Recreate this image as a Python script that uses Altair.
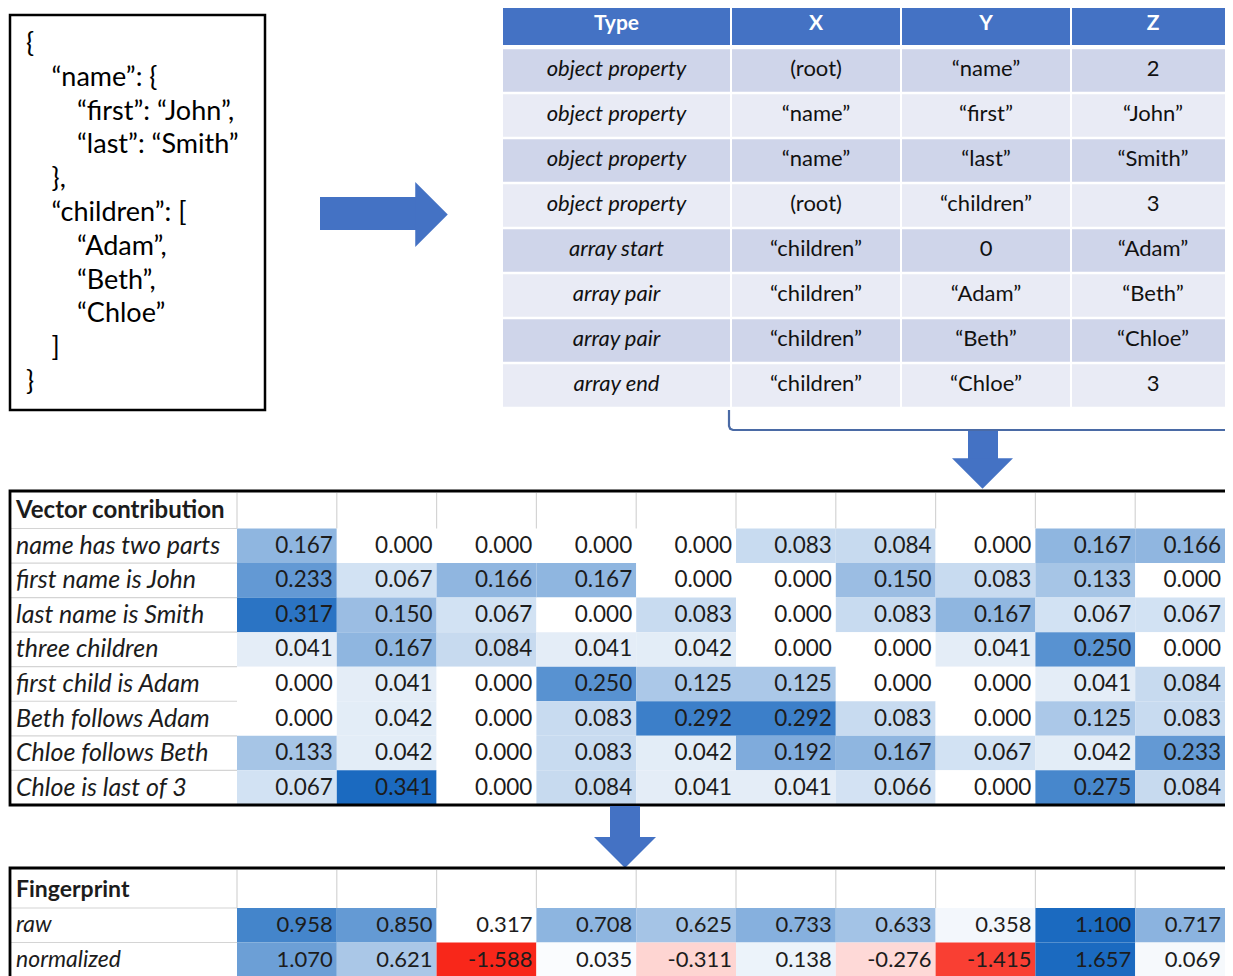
import altair as alt
import pandas as pd

# ---------------- data ----------------
JSON_TEXT = ["{", "“name”: {", "“first”: “John”,", "“last”: “Smith”", "},",
             "“children”: [", "“Adam”,", "“Beth”,", "“Chloe”", "]", "}"]
JSON_INDENT = [0, 1, 2, 2, 1, 1, 2, 2, 2, 1, 0]

TABLE_HEADER = ["Type", "X", "Y", "Z"]
TABLE_TYPE = ["object property", "object property", "object property", "object property",
              "array start", "array pair", "array pair", "array end"]
TABLE_X = ["(root)", "“name”", "“name”", "(root)", "“children”", "“children”", "“children”", "“children”"]
TABLE_Y = ["“name”", "“first”", "“last”", "“children”", "0", "“Adam”", "“Beth”", "“Chloe”"]
TABLE_Z = ["2", "“John”", "“Smith”", "3", "“Adam”", "“Beth”", "“Chloe”", "3"]

VEC_TITLE = "Vector contribution"
VEC_LABELS = ["name has two parts", "first name is John", "last name is Smith", "three children",
              "first child is Adam", "Beth follows Adam", "Chloe follows Beth", "Chloe is last of 3"]
VEC_NAME_TWO_PARTS = [0.167, 0.000, 0.000, 0.000, 0.000, 0.083, 0.084, 0.000, 0.167, 0.166]
VEC_FIRST_JOHN = [0.233, 0.067, 0.166, 0.167, 0.000, 0.000, 0.150, 0.083, 0.133, 0.000]
VEC_LAST_SMITH = [0.317, 0.150, 0.067, 0.000, 0.083, 0.000, 0.083, 0.167, 0.067, 0.067]
VEC_THREE_CHILDREN = [0.041, 0.167, 0.084, 0.041, 0.042, 0.000, 0.000, 0.041, 0.250, 0.000]
VEC_FIRST_ADAM = [0.000, 0.041, 0.000, 0.250, 0.125, 0.125, 0.000, 0.000, 0.041, 0.084]
VEC_BETH_ADAM = [0.000, 0.042, 0.000, 0.083, 0.292, 0.292, 0.083, 0.000, 0.125, 0.083]
VEC_CHLOE_BETH = [0.133, 0.042, 0.000, 0.083, 0.042, 0.192, 0.167, 0.067, 0.042, 0.233]
VEC_CHLOE_LAST = [0.067, 0.341, 0.000, 0.084, 0.041, 0.041, 0.066, 0.000, 0.275, 0.084]
VEC_ROWS = [VEC_NAME_TWO_PARTS, VEC_FIRST_JOHN, VEC_LAST_SMITH, VEC_THREE_CHILDREN,
            VEC_FIRST_ADAM, VEC_BETH_ADAM, VEC_CHLOE_BETH, VEC_CHLOE_LAST]

FP_TITLE = "Fingerprint"
FP_LABELS = ["raw", "normalized"]
FP_RAW = [0.958, 0.850, 0.317, 0.708, 0.625, 0.733, 0.633, 0.358, 1.100, 0.717]
FP_NORM = [1.070, 0.621, -1.588, 0.035, -0.311, 0.138, -0.276, -1.415, 1.657, 0.069]

# ---------------- layout ----------------
FONT = "Lato"
BLUE = "#4472C4"
HEAT_BLUE = "#1B6AC0"
HEAT_RED = "#F8271A"
TXT = "#1c1c1c"

XS = alt.Scale(domain=[8, 1225], nice=False, zero=False)
YS = alt.Scale(domain=[8, 976], reverse=True, nice=False, zero=False)
X = alt.X("x:Q", scale=XS, axis=None)
Y = alt.Y("y:Q", scale=YS, axis=None)
X2 = alt.X2("x2:Q")
Y2 = alt.Y2("y2:Q")
TX = alt.X("tx:Q", scale=XS, axis=None)
TY = alt.Y("ty:Q", scale=YS, axis=None)


def fmt(v):
    return f"{v:.3f}"


layers = []

# JSON box
json_df = pd.DataFrame({"text": JSON_TEXT,
                        "tx": [26 + 25.5 * k for k in JSON_INDENT],
                        "ty": [44 + 33.8 * i for i in range(len(JSON_TEXT))]})
layers.append(alt.Chart(json_df).mark_text(align="left", baseline="middle", font=FONT,
                                           fontSize=27, color="#000").encode(TX, TY, text="text:N"))
layers.append(alt.Chart(pd.DataFrame({"x": [10], "x2": [265], "y": [15], "y2": [410]}))
              .mark_rect(fillOpacity=0, stroke="#000", strokeWidth=2.5).encode(X, X2, Y, Y2))

# right arrow
layers.append(alt.Chart(pd.DataFrame({"x": [320], "x2": [416], "y": [197], "y2": [230]}))
              .mark_rect(color=BLUE).encode(X, X2, Y, Y2))
layers.append(alt.Chart(pd.DataFrame({"x": [431.5], "y": [214.5]}))
              .mark_point(shape="M -0.5 -1 L 0.5 0 L -0.5 1 Z", size=65 ** 2, filled=True,
                          color=BLUE, opacity=1, strokeWidth=0).encode(X, Y))

# top table
T_EDGES = [502, 731, 901, 1071, 1235]
hdr = pd.DataFrame({"x": [T_EDGES[c] + 1 for c in range(4)],
                    "x2": [T_EDGES[c + 1] - 1 if c < 3 else 1245 for c in range(4)],
                    "y": [0] * 4, "y2": [45] * 4,
                    "tx": [(T_EDGES[c] + T_EDGES[c + 1]) / 2 for c in range(4)],
                    "ty": [24] * 4,
                    "text": TABLE_HEADER})
layers.append(alt.Chart(hdr).mark_rect(color=BLUE).encode(X, X2, Y, Y2))
layers.append(alt.Chart(hdr).mark_text(font=FONT, fontSize=21, fontWeight="bold", color="white",
                                       baseline="middle").encode(TX, TY, text="text:N"))

body_rows = []
cols = [TABLE_TYPE, TABLE_X, TABLE_Y, TABLE_Z]
for r in range(8):
    for c in range(4):
        top = 48 + 45.0 * r
        body_rows.append({"x": T_EDGES[c] + 1, "x2": T_EDGES[c + 1] - 1 if c < 3 else 1245,
                          "y": top + 1.2, "y2": top + 45 - 1.2,
                          "tx": (T_EDGES[c] + T_EDGES[c + 1]) / 2, "ty": top + 20.5,
                          "band": "a" if r % 2 == 0 else "b",
                          "text": cols[c][r], "italic": c == 0})
body = pd.DataFrame(body_rows)
layers.append(alt.Chart(body).mark_rect().encode(
    X, X2, Y, Y2,
    color=alt.Color("band:N", scale=alt.Scale(domain=["a", "b"], range=["#CFD5EA", "#E9EBF5"]), legend=None)))
layers.append(alt.Chart(body[body["italic"]]).mark_text(font=FONT, fontSize=22, fontStyle="italic",
                                                         color="#111", baseline="middle")
              .encode(TX, TY, text="text:N"))
layers.append(alt.Chart(body[~body["italic"]]).mark_text(font=FONT, fontSize=22, color="#111",
                                                          baseline="middle")
              .encode(TX, TY, text="text:N"))

# bracket + down arrow 1
br = pd.DataFrame({"x": [729, 729, 730.2, 733, 1245], "y": [410, 426, 428.8, 430, 430], "o": [0, 1, 2, 3, 4]})
layers.append(alt.Chart(br).mark_line(color="#4A6AA5", strokeWidth=2.2).encode(X, Y, order="o:Q"))
layers.append(alt.Chart(pd.DataFrame({"x": [968], "x2": [998], "y": [431], "y2": [459]}))
              .mark_rect(color=BLUE).encode(X, X2, Y, Y2))
layers.append(alt.Chart(pd.DataFrame({"x": [982.5], "y": [473.5]}))
              .mark_point(shape="M -1 -0.5 L 1 -0.5 L 0 0.5 Z", size=61 ** 2, filled=True,
                          color=BLUE, opacity=1, strokeWidth=0).encode(X, Y))

# vector contribution table (last column narrowed so its numbers stay visible)
C_EDGES = [237 + 99.8 * c for c in range(10)] + [1225]
V_TOP, V_HDR, V_ROWH = 491, 528.5, 34.55
vcells = []
for r, row in enumerate(VEC_ROWS):
    for c, v in enumerate(row):
        top = V_HDR + V_ROWH * r
        vcells.append({"x": C_EDGES[c], "x2": C_EDGES[c + 1] if c < 9 else 1250, "y": top, "y2": top + V_ROWH,
                       "tx": C_EDGES[c + 1] - 4, "ty": top + V_ROWH / 2, "v": v, "label": fmt(v)})
vcells = pd.DataFrame(vcells)
layers.append(alt.Chart(vcells).mark_rect().encode(
    X, X2, Y, Y2,
    color=alt.Color("v:Q", scale=alt.Scale(domain=[0, max(max(r) for r in VEC_ROWS)],
                                           range=["#FFFFFF", HEAT_BLUE], interpolate="rgb"),
                    legend=None)))
layers.append(alt.Chart(vcells).mark_text(font=FONT, fontSize=22.5, align="right", baseline="middle",
                                          color=TXT).encode(TX, TY, text="label:N"))

vlab = pd.DataFrame({"tx": [16] * 8, "ty": [V_HDR + V_ROWH * (r + 0.5) for r in range(8)], "text": VEC_LABELS})
layers.append(alt.Chart(vlab).mark_text(font=FONT, fontSize=25, fontStyle="italic", align="left",
                                        baseline="middle", color=TXT).encode(TX, TY, text="text:N"))
layers.append(alt.Chart(pd.DataFrame({"tx": [16], "ty": [511], "text": [VEC_TITLE]}))
              .mark_text(font=FONT, fontSize=24, fontWeight="bold", align="left", baseline="middle",
                         color=TXT).encode(TX, TY, text="text:N"))

# gray grid lines (vector)
vrules = pd.DataFrame({"x": C_EDGES[:10], "y": [493] * 10, "y2": [V_HDR] * 10})
layers.append(alt.Chart(vrules).mark_rule(color="#D4D4D4", strokeWidth=1.2).encode(X, Y, Y2))
hrules = pd.DataFrame({"x": [10] * 8, "x2": [237] * 8, "y": [V_HDR + V_ROWH * r for r in range(8)]})
layers.append(alt.Chart(hrules).mark_rule(color="#D4D4D4", strokeWidth=1.2).encode(X, X2, Y))

layers.append(alt.Chart(pd.DataFrame({"x": [10], "x2": [1250], "y": [V_TOP], "y2": [805]}))
              .mark_rect(fillOpacity=0, stroke="#000", strokeWidth=2.8).encode(X, X2, Y, Y2))

# down arrow 2
layers.append(alt.Chart(pd.DataFrame({"x": [610], "x2": [640], "y": [806], "y2": [838]}))
              .mark_rect(color=BLUE).encode(X, X2, Y, Y2))
layers.append(alt.Chart(pd.DataFrame({"x": [625], "y": [852.5]}))
              .mark_point(shape="M -1 -0.5 L 1 -0.5 L 0 0.5 Z", size=62 ** 2, filled=True,
                          color=BLUE, opacity=1, strokeWidth=0).encode(X, Y))

# fingerprint table
F_TOP, F_HDR, F_ROWH = 868, 908, 34.5
x2s = [C_EDGES[c + 1] if c < 9 else 1250 for c in range(10)]
raw_df = pd.DataFrame({"x": C_EDGES[:10], "x2": x2s, "y": [F_HDR] * 10, "y2": [F_HDR + F_ROWH] * 10,
                       "tx": [e - 4 for e in C_EDGES[1:]], "ty": [F_HDR + F_ROWH / 2] * 10, "raw": FP_RAW,
                       "label": [fmt(v) for v in FP_RAW]})
norm_df = pd.DataFrame({"x": C_EDGES[:10], "x2": x2s, "y": [F_HDR + F_ROWH] * 10,
                        "y2": [F_HDR + 2 * F_ROWH + 5] * 10,
                        "tx": [e - 4 for e in C_EDGES[1:]], "ty": [F_HDR + F_ROWH * 1.5] * 10, "norm": FP_NORM,
                        "label": [fmt(v) for v in FP_NORM]})
layers.append(alt.Chart(raw_df).mark_rect().encode(
    X, X2, Y, Y2,
    color=alt.Color("raw:Q", scale=alt.Scale(domain=[min(FP_RAW), max(FP_RAW)],
                                             range=["#FFFFFF", HEAT_BLUE], interpolate="rgb"), legend=None)))
layers.append(alt.Chart(norm_df).mark_rect().encode(
    X, X2, Y, Y2,
    color=alt.Color("norm:Q", scale=alt.Scale(domain=[min(FP_NORM), 0, max(FP_NORM)],
                                              range=[HEAT_RED, "#FFFFFF", HEAT_BLUE], interpolate="rgb"),
                    legend=None)))
layers.append(alt.Chart(raw_df).mark_text(font=FONT, fontSize=22, align="right", baseline="middle",
                                          color=TXT).encode(TX, TY, text="label:N"))
layers.append(alt.Chart(norm_df).mark_text(font=FONT, fontSize=22, align="right", baseline="middle",
                                           color=TXT).encode(TX, TY, text="label:N"))
flab = pd.DataFrame({"tx": [16, 16], "ty": [F_HDR + F_ROWH * 0.5, F_HDR + F_ROWH * 1.5], "text": FP_LABELS})
layers.append(alt.Chart(flab).mark_text(font=FONT, fontSize=23, fontStyle="italic", align="left",
                                        baseline="middle", color=TXT).encode(TX, TY, text="text:N"))
layers.append(alt.Chart(pd.DataFrame({"tx": [16], "ty": [890], "text": [FP_TITLE]}))
              .mark_text(font=FONT, fontSize=23, fontWeight="bold", align="left", baseline="middle",
                         color=TXT).encode(TX, TY, text="text:N"))
fvr = pd.DataFrame({"x": C_EDGES[:10], "y": [870] * 10, "y2": [F_HDR] * 10})
layers.append(alt.Chart(fvr).mark_rule(color="#D4D4D4", strokeWidth=1.2).encode(X, Y, Y2))
fhr = pd.DataFrame({"x": [10, 10], "x2": [237, 237], "y": [F_HDR, F_HDR + F_ROWH]})
layers.append(alt.Chart(fhr).mark_rule(color="#D4D4D4", strokeWidth=1.2).encode(X, X2, Y))
layers.append(alt.Chart(pd.DataFrame({"x": [10], "x2": [1250], "y": [F_TOP], "y2": [1000]}))
              .mark_rect(fillOpacity=0, stroke="#000", strokeWidth=2.8).encode(X, X2, Y, Y2))

chart = (alt.layer(*layers)
         .resolve_scale(color="independent")
         .properties(width=1217, height=968, padding=0, autosize=alt.AutoSizeParams(type="none"),
                     background="white")
         .configure_view(stroke=None))

chart.save("out.html", embed_options={"renderer": "svg", "actions": False})
